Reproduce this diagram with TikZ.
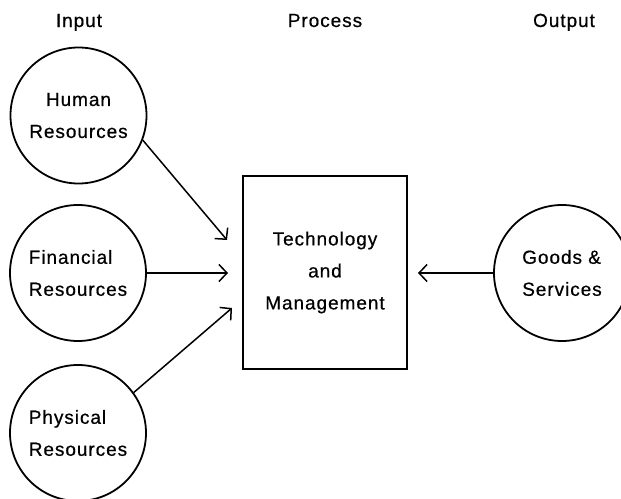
\documentclass[tikz,border=0pt]{standalone}
\usepackage{fontspec}
\setmainfont{Liberation Sans}[LetterSpace=5,FakeBold=0.6]
\usetikzlibrary{arrows.meta}
\begin{document}
\begin{tikzpicture}[x=1pt,y=-1pt,
  lbl/.style={font=\fontsize{19}{32}\selectfont, inner sep=0pt},
  res/.style={lbl, draw, circle, line width=1.8pt, minimum size=136pt},
  proc/.style={lbl, draw, line width=1.8pt, minimum width=164pt,
    minimum height=193pt, align=center},
  flow/.style={line width=1.5pt,
    -{Straight Barb[length=8pt,width=17pt,line width=1.5pt]}}]
\useasboundingbox (0,0) rectangle (621,498);
\clip (0,0) rectangle (621,498);

% column headings
\node[lbl, anchor=base] (hin)  at (79,27)  {Input};
\node[lbl, anchor=base] (hpro) at (325,27) {Process};
\node[lbl, anchor=base] (hout) at (564,27) {Output};

% inputs
\node[res, align=center] (human) at (78.5,115.5) {Human\\Resources};
\node[res, align=left]   (fin)   at (78,273)     {Financial\\Resources};
\node[res, align=left]   (phys)  at (78,433)     {Physical\\Resources};

% process
\node[proc] (tm) at (325,272.5) {Technology\\and\\Management};

% output
\node[res, align=left] (goods) at (562,273) {Goods \&\\Services};

% arrow tips in front of the box
\coordinate (thuman) at (227,240);
\coordinate (tfin)   at (228,273);
\coordinate (tphys)  at (232,308);
\coordinate (tgoods) at (418,273);

\draw[flow] (human.-21.7) -- (thuman);
\draw[flow] (fin.east)    -- (tfin);
\draw[flow] (phys.36)     -- (tphys);
\draw[flow] (goods.west)  -- (tgoods);
\end{tikzpicture}
\end{document}
